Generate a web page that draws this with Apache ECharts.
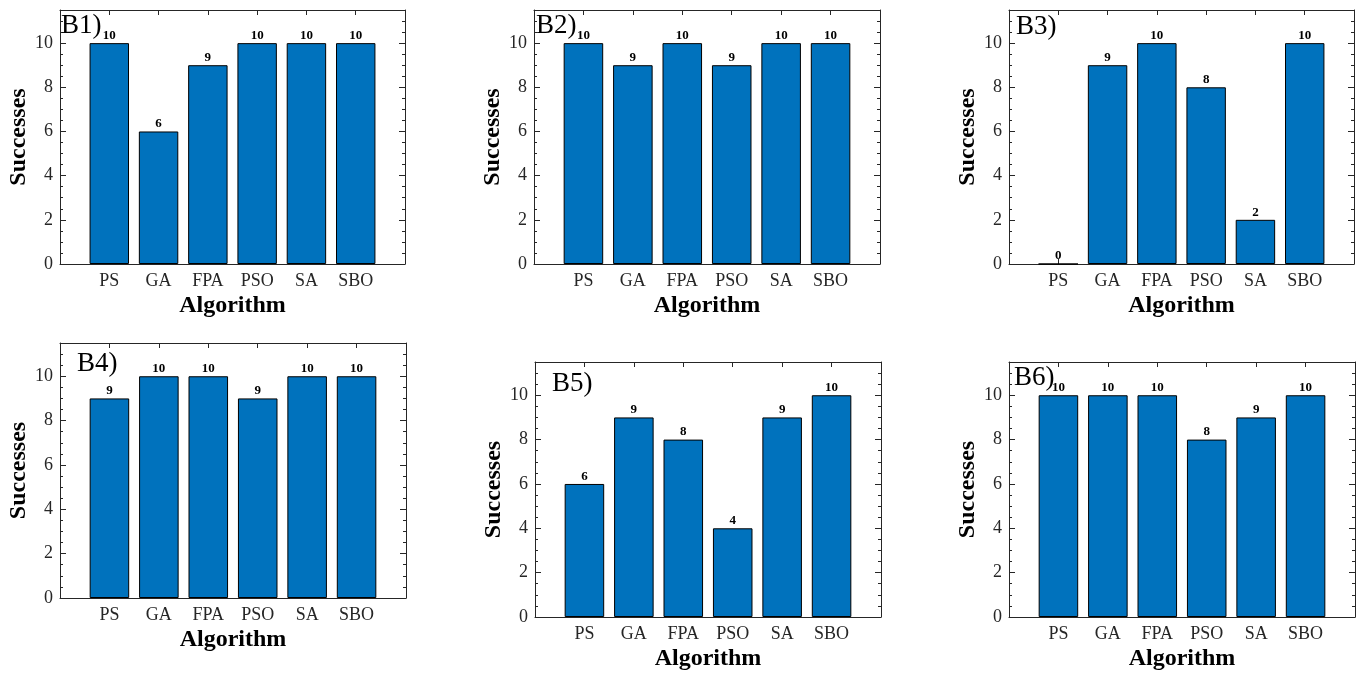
<!DOCTYPE html>
<html>
<head>
<meta charset="utf-8">
<script src="https://cdn.jsdelivr.net/npm/echarts@6/dist/echarts.min.js"></script>
<style>
  html, body { margin: 0; padding: 0; background: #fff; }
  #chart { width: 1365px; height: 673px; }
</style>
</head>
<body>
<div id="chart"></div>
<script>
// Algorithms compared in every panel
const algorithms = ['PS', 'GA', 'FPA', 'PSO', 'SA', 'SBO'];

// Number of successful runs (out of 10) per benchmark
const successesB1 = [10, 6, 9, 10, 10, 10];
const successesB2 = [10, 9, 10, 9, 10, 10];
const successesB3 = [0, 9, 10, 8, 2, 10];
const successesB4 = [9, 10, 10, 9, 10, 10];
const successesB5 = [6, 9, 8, 4, 9, 10];
const successesB6 = [10, 10, 10, 8, 9, 10];

const panelLabels = ['B1)', 'B2)', 'B3)', 'B4)', 'B5)', 'B6)'];
const panelData = [successesB1, successesB2, successesB3, successesB4, successesB5, successesB6];

// Axis settings
const yMax = 11.5;
const yMajorStep = 2;
const yMinorStep = 0.5;

// Panel frames in pixels
const frames = [
  { left: 60,   top: 10,  width: 345, height: 254 },
  { left: 534,  top: 10,  width: 346, height: 254 },
  { left: 1009, top: 10,  width: 345, height: 254 },
  { left: 60,   top: 343, width: 346, height: 255 },
  { left: 535,  top: 362, width: 346, height: 255 },
  { left: 1009, top: 362, width: 346, height: 255 }
];
// Panel tag positions (left edge, vertical middle)
const tagPos = [
  [61, 26], [536, 26], [1016, 27],
  [77, 364], [552, 384], [1014, 378]
];

const AXIS = '#262626';
const SERIF = '"Liberation Serif", "Times New Roman", serif';

const grid = [], xAxis = [], yAxis = [], series = [], graphic = [];

function tick(len) {
  return { show: true, inside: true, length: len, lineStyle: { color: AXIS, width: 1 } };
}

frames.forEach((f, i) => {
  grid.push({ left: f.left, top: f.top, width: f.width, height: f.height, containLabel: false });

  // bottom axis with algorithm names
  xAxis.push({
    gridIndex: i, type: 'value', position: 'bottom',
    min: 0, max: algorithms.length + 1, interval: 1,
    splitLine: { show: false },
    axisLine: { show: true, onZero: false, lineStyle: { color: AXIS, width: 1 } },
    axisTick: tick(5),
    axisLabel: {
      show: true, margin: 8, color: AXIS, fontFamily: SERIF, fontSize: 18,
      formatter: v => algorithms[v - 1] || ''
    },
    name: 'Algorithm', nameLocation: 'middle', nameGap: 30,
    nameTextStyle: { color: '#000', fontFamily: SERIF, fontSize: 24, fontWeight: 'bold' }
  });
  // top frame edge
  xAxis.push({
    gridIndex: i, type: 'value', position: 'top',
    min: 0, max: algorithms.length + 1, interval: 1,
    splitLine: { show: false },
    axisLine: { show: true, onZero: false, lineStyle: { color: AXIS, width: 1 } },
    axisTick: tick(5),
    axisLabel: { show: false }
  });

  // left major
  yAxis.push({
    gridIndex: i, type: 'value', position: 'left', min: 0, max: yMax, interval: yMajorStep,
    splitLine: { show: false },
    axisLine: { show: true, onZero: false, lineStyle: { color: AXIS, width: 1 } },
    axisTick: tick(6),
    axisLabel: { show: true, margin: 7, color: AXIS, fontFamily: SERIF, fontSize: 18, showMaxLabel: false },
    name: 'Successes', nameLocation: 'middle', nameGap: 27, nameRotate: 90,
    nameTextStyle: { color: '#000', fontFamily: SERIF, fontSize: 24, fontWeight: 'bold' }
  });
  // left minor
  yAxis.push({
    gridIndex: i, type: 'value', position: 'left', min: 0, max: yMax, interval: yMinorStep,
    splitLine: { show: false },
    axisLine: { show: false, onZero: false },
    axisTick: tick(3),
    axisLabel: { show: false }
  });
  // right major
  yAxis.push({
    gridIndex: i, type: 'value', position: 'right', min: 0, max: yMax, interval: yMajorStep,
    splitLine: { show: false },
    axisLine: { show: true, onZero: false, lineStyle: { color: AXIS, width: 1 } },
    axisTick: tick(6),
    axisLabel: { show: false }
  });
  // right minor
  yAxis.push({
    gridIndex: i, type: 'value', position: 'right', min: 0, max: yMax, interval: yMinorStep,
    splitLine: { show: false },
    axisLine: { show: false, onZero: false },
    axisTick: tick(3),
    axisLabel: { show: false }
  });

  series.push({
    type: 'bar',
    xAxisIndex: 2 * i,
    yAxisIndex: 4 * i,
    barWidth: '80%',
    data: panelData[i].map((v, k) => [k + 1, v]),
    itemStyle: { color: '#0072BD', borderColor: '#000', borderWidth: 1 },
    label: {
      show: true, position: 'top', distance: 1,
      color: '#000', fontFamily: SERIF, fontSize: 13, fontWeight: 'bold',
      formatter: p => String(p.value[1])
    },
    animation: false
  });

  graphic.push({
    type: 'text', left: tagPos[i][0], top: tagPos[i][1] - 14, z: 10,
    style: { text: panelLabels[i], fill: '#000', font: '27px ' + SERIF }
  });
});

const chart = echarts.init(document.getElementById('chart'), null, { renderer: 'canvas' });
chart.setOption({ animation: false, grid, xAxis, yAxis, series, graphic });
</script>
</body>
</html>
